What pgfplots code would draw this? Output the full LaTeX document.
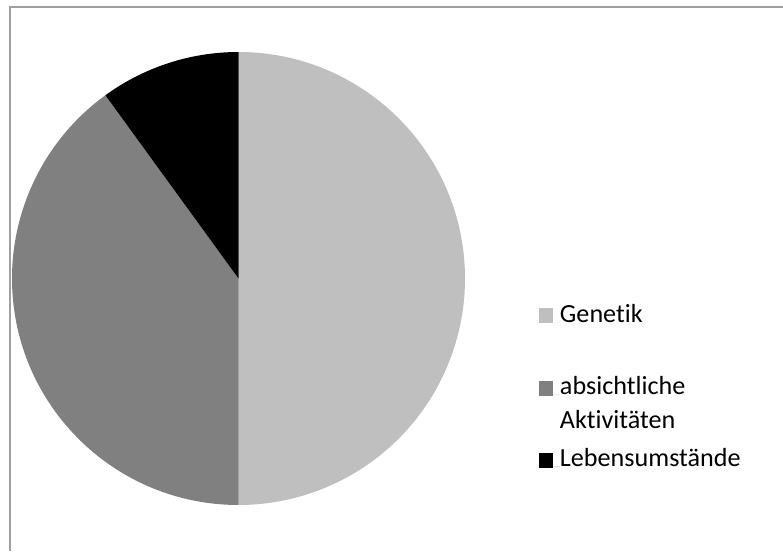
\documentclass[border=0pt]{standalone}
\usepackage{fontspec}
\setmainfont{Carlito}[Ligatures={NoCommon}]
\usepackage{pgfplots}
\pgfplotsset{compat=1.18}
\definecolor{pieA}{HTML}{BFBFBF}
\definecolor{pieB}{HTML}{808080}
\definecolor{pieC}{HTML}{000000}
\definecolor{framegray}{HTML}{A0A0A0}
% shares in percent: Genetik 50, absichtliche Aktivitaeten 40, Lebensumstaende 10
\begin{document}
\begin{tikzpicture}
\useasboundingbox (0,0) rectangle (587.25pt,413.25pt);
\draw[framegray, line width=1.1pt] (7.5pt,0pt) -- (7.5pt,408pt) -- (587.25pt,408pt);
\begin{axis}[
  at={(178.875pt,204.375pt)}, anchor=center,
  scale only axis, width=339.75pt, height=339.75pt,
  xmin=-1,xmax=1,ymin=-1,ymax=1,
  hide axis,
  clip=false,
  legend image code/.code={\fill[#1] (0pt,-0.75pt) rectangle (10.5pt,10.5pt); \path (0pt,0pt) -- (15.75pt,0pt);},
  legend style={at={(1.16335,0.46284)}, anchor=north west, draw=none, fill=none,
    inner sep=0pt, outer sep=0pt, row sep=0pt, column sep=0pt,
    cells={anchor=base west},
    nodes={inner sep=0pt, outer sep=0pt, text depth=, text height=},
    font=\fontsize{19.6pt}{24.75pt}\selectfont},
]
\fill[pieA] (axis cs:0,0) -- ++({90-3.6*0}:169.875pt) arc[start angle={90-3.6*0}, end angle={90-3.6*50}, radius=169.875pt] -- cycle;
\fill[pieB] (axis cs:0,0) -- ++({90-3.6*50}:169.875pt) arc[start angle={90-3.6*50}, end angle={90-3.6*90}, radius=169.875pt] -- cycle;
\fill[pieC] (axis cs:0,0) -- ++({90-3.6*90}:169.875pt) arc[start angle={90-3.6*90}, end angle={90-3.6*100}, radius=169.875pt] -- cycle;
\addlegendimage{fill=pieA, draw=none}
\addlegendentry{Genetik\rule[-34.75pt]{0pt}{54.75pt}}
\addlegendimage{fill=pieB, draw=none}
\addlegendentry{\vtop{\baselineskip=24.75pt\hbox{absichtliche\rule{0pt}{20pt}}\hbox{Aktivitäten\rule[-9.25pt]{0pt}{9.25pt}}}}
\addlegendimage{fill=pieC, draw=none}
\addlegendentry{Lebensumstände\rule{0pt}{20pt}}
\end{axis}
\end{tikzpicture}
\end{document}
